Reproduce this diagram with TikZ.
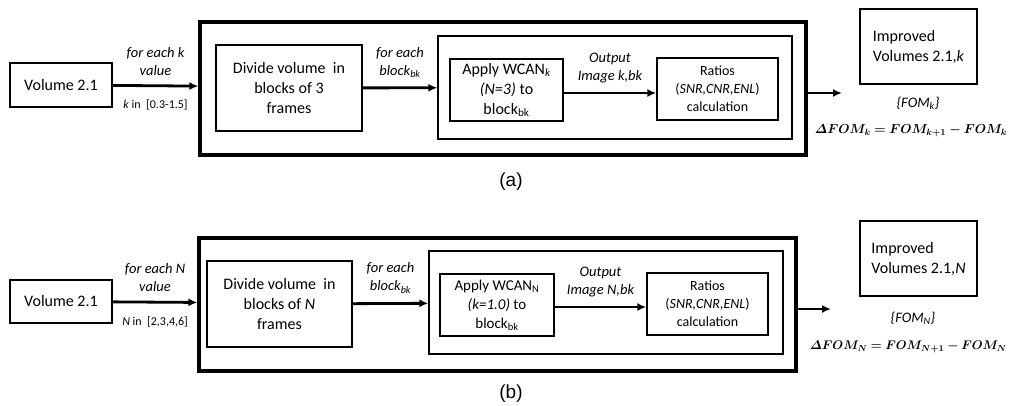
\RequirePackage{fix-cm}
\documentclass[tikz,border=0pt]{standalone}
\usepackage{fontspec}
\usepackage{amsmath, amssymb}
\usepackage{bm}
\setmainfont{Carlito}
\newfontfamily\arialfont{Liberation Sans}
\usetikzlibrary{arrows.meta}

\begin{document}
\begin{tikzpicture}[x=1pt, y=-1pt,
    box/.style={draw, line width=1.4pt, inner sep=0pt, align=center, font=\fontsize{16}{20}\selectfont},
    outerbox/.style={draw, line width=3.2pt, inner sep=0pt},
    innerbox/.style={draw, line width=1.4pt, inner sep=0pt},
    arr/.style={-{Latex[length=9pt,width=8pt]}, line width=2.8pt},
    lbl/.style={align=center, font=\fontsize{14.5}{18}\selectfont\itshape, inner sep=0pt},
    sml/.style={font=\fontsize{12}{14}\selectfont, inner sep=0pt},
    eqn/.style={font=\fontsize{13}{16}\selectfont, inner sep=0pt},
    captext/.style={font=\fontsize{19}{22}\arialfont, inner sep=0pt}
]
    \useasboundingbox (0,0) rectangle (1011,405);

    % (a)
    \node[box, minimum width=102, minimum height=44] (vola) at (61,85) {Volume 2.1};
    \node[outerbox, minimum width=606, minimum height=133] (outera) at (503,88.5) {};
    \node[box, minimum width=146, minimum height=86] (diva) at (289,88) {Divide volume \ in\\blocks of 3\\frames};
    \node[innerbox, minimum width=354, minimum height=103] (innera) at (615,87.5) {};
    \node[box, minimum width=113, minimum height=62] (applya) at (506.5,90)
        {Apply WCAN\textsubscript{\textit{k}}\\\textit{(N=3)} to\\block\textsubscript{bk}};
    \node[box, minimum width=121, minimum height=62, font=\fontsize{14}{18}\selectfont] (ratioa) at (717.5,89)
        {Ratios\\(\textit{SNR,CNR,ENL})\\calculation};
    \node[box, minimum width=117, minimum height=75, align=left] (impa) at (918.5,46.5)
        {Improved\\Volumes 2.1,\textit{k}};
    \coordinate (enda) at (842,93);

    \draw[arr] (vola) -- node[lbl, above=9pt] {for each \textit{k}\\value} node[sml, below=13pt] {\textit{k} in \ [0.3-1.5]} (outera);
    \draw[arr] (diva) -- node[lbl, above=9pt] {for each\\block\textsubscript{bk}} (innera);
    \draw[arr] (applya.east |- 0,93) -- node[lbl, above=9pt] {Output\\Image \textit{k},bk} (ratioa.west |- 0,93);
    \draw[arr] (enda -| outera.east) -- (enda);

    \node[lbl] (foma) at (918,103) {\{FOM\textsubscript{\textit{k}}\}};
    \node[eqn] (eqa) at (911,131) {$\boldsymbol{\varDelta FOM_k = FOM_{k+1} - FOM_k}$};
    \node[captext] (capa) at (511,182) {(a)};

    % (b)
    \node[box, minimum width=102, minimum height=43] (volb) at (61,301.5) {Volume 2.1};
    \node[outerbox, minimum width=597, minimum height=133] (outerb) at (497.5,304.5) {};
    \node[box, minimum width=145, minimum height=86] (divb) at (279.5,304) {Divide volume \ in\\blocks of \textit{N}\\frames};
    \node[innerbox, minimum width=354, minimum height=103] (innerb) at (606,302.5) {};
    \node[box, minimum width=114, minimum height=62, font=\fontsize{15}{19}\selectfont] (applyb) at (497,305)
        {Apply WCAN\textsubscript{N}\\\textit{(k=1.0)} to\\block\textsubscript{bk}};
    \node[box, minimum width=121, minimum height=62, font=\fontsize{14}{18}\selectfont] (ratiob) at (707.5,304)
        {Ratios\\(\textit{SNR,CNR,ENL})\\calculation};
    \node[box, minimum width=117, minimum height=75, align=left] (impb) at (918.5,258.5)
        {Improved\\Volumes 2.1,\textit{N}};
    \coordinate (endb) at (831,309);

    \draw[arr] (volb) -- node[lbl, above=9pt] {for each \textit{N}\\value} node[sml, below=13pt] {\textit{N} in \ [2,3,4,6]} (outerb);
    \draw[arr] (divb) -- node[lbl, above=9pt] {for each\\block\textsubscript{bk}} (innerb);
    \draw[arr] (applyb.east |- 0,307) -- node[lbl, above=9pt] {Output\\Image \textit{N},bk} (ratiob.west |- 0,307);
    \draw[arr] (endb -| outerb.east) -- (endb);

    \node[lbl] (fomb) at (913,318) {\{FOM\textsubscript{\textit{N}}\}};
    \node[eqn, anchor=east, font=\fontsize{12.5}{15}\selectfont] (eqb) at (1007,347) {$\boldsymbol{\varDelta FOM_N = FOM_{N+1} - FOM_N}$};
    \node[captext] (capb) at (511,394) {(b)};
\end{tikzpicture}
\end{document}
